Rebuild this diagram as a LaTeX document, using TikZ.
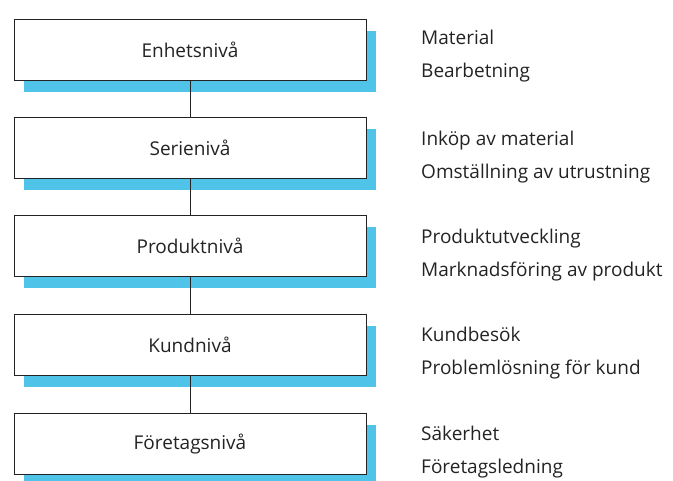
\documentclass[tikz,border=0pt]{standalone}
\usepackage{fontspec}
\setmainfont{Open Sans}
\usetikzlibrary{shadows}
\definecolor{shadowblue}{RGB}{79,195,232}
\definecolor{inkgray}{RGB}{35,35,35}
\tikzset{
  level/.style={draw=inkgray, line width=1pt, fill=white, minimum width=352pt, minimum height=61pt,
    inner sep=0pt, font=\fontsize{19}{22}\selectfont, text=inkgray,
    general shadow={fill=shadowblue, shadow xshift=10pt, shadow yshift=-11pt}},
  note/.style={anchor=west, align=left, font=\fontsize{19}{33}\selectfont, text=inkgray, inner sep=0pt},
  link/.style={draw=inkgray, line width=1pt}
}
\begin{document}
\begin{tikzpicture}[x=1pt,y=-1pt]
\useasboundingbox (0,0) rectangle (673,480);
\node[level] (b1) at (190,50) {Enhetsnivå};
\node[level] (b2) at (190,148) {Serienivå};
\node[level] (b3) at (190,246) {Produktnivå};
\node[level] (b4) at (190,345) {Kundnivå};
\node[level] (b5) at (190,444) {Företagsnivå};
\draw[link] (b1.south) -- (b2.north);
\draw[link] (b2.south) -- (b3.north);
\draw[link] (b3.south) -- (b4.north);
\draw[link] (b4.south) -- (b5.north);
\node[note] (t1) at (421,56) {Material\\Bearbetning};
\node[note] (t2) at (421,157) {Inköp av material\\Omställning av utrustning};
\node[note] (t3) at (421,255) {Produktutveckling\\Marknadsföring av produkt};
\node[note] (t4) at (421,353) {Kundbesök\\Problemlösning för kund};
\node[note] (t5) at (421,452) {Säkerhet\\Företagsledning};
\end{tikzpicture}
\end{document}
